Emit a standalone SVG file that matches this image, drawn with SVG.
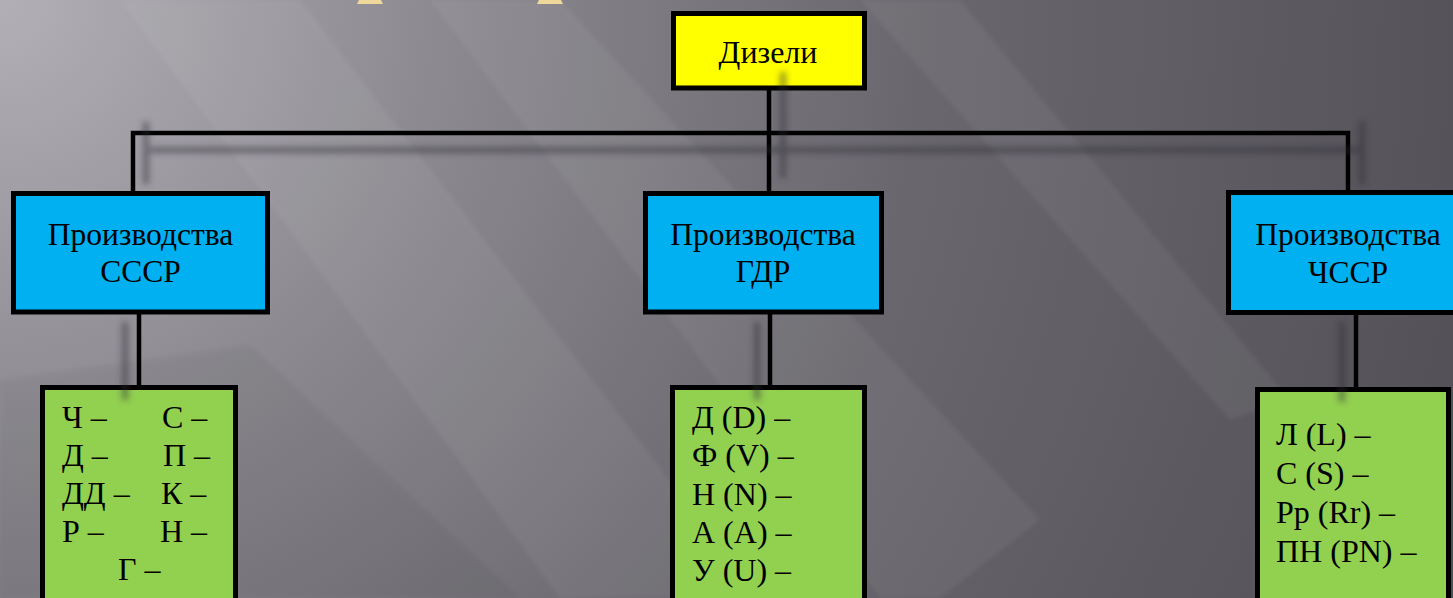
<svg xmlns="http://www.w3.org/2000/svg" width="1453" height="598" viewBox="0 0 1453 598">
<defs>
<radialGradient id="bg" cx="0" cy="0" r="1550" gradientUnits="userSpaceOnUse">
<stop offset="0" stop-color="#b2b0b6"/>
<stop offset="0.3" stop-color="#8a888e"/>
<stop offset="0.6" stop-color="#69676d"/>
<stop offset="1" stop-color="#525056"/>
</radialGradient>
<filter id="blur" x="-50%" y="-50%" width="200%" height="200%"><feGaussianBlur stdDeviation="3"/></filter>
<filter id="soft" filterUnits="userSpaceOnUse" x="0" y="0" width="1453" height="598"><feGaussianBlur stdDeviation="2"/></filter>
<style>
.box{stroke:#000;stroke-width:5}
.top{fill:#ffff00}
.mid{fill:#00b0f0}
.leaf{fill:#92d050}
.conn{fill:none;stroke:#000;stroke-width:4.5}
.shadow{fill:none;stroke:#2e2c34;stroke-width:6;opacity:0.5;filter:url(#blur)}
text{font-family:"Liberation Serif","Times New Roman",serif;fill:#000}
.t31{font-size:31.5px}
.t32{font-size:32px}
</style>
</defs>
<rect width="1453" height="598" fill="url(#bg)"/>
<g opacity="0.05" fill="#ffffff" filter="url(#soft)">
<polygon points="120,0 300,0 760,598 560,598"/>
<polygon points="430,0 560,0 1040,520 940,598 880,598"/>
<polygon points="860,0 960,0 1290,400 1230,420"/>
</g>
<g opacity="0.04" fill="#000000" filter="url(#soft)">
<polygon points="0,380 0,598 520,598 250,345"/>
</g>
<polygon points="359,0 381,0 383,4 357,4" fill="#eed89a"/>
<polygon points="539,0 561,0 563,4 537,4" fill="#eed89a"/>
<g id="connectors">
<path class="conn" d="M769,90 V133 M133,191 V133 H1348 V190 M769,133 V191 M139,314 V385 M770,314 V385 M1356,315 V387"/>
</g>
<g id="node-dizeli">
<rect class="box top" x="673.5" y="13.5" width="191" height="74.5"/>
<text class="t32" x="768" y="63" text-anchor="middle">Дизели</text>
</g>
<g id="node-ussr">
<rect class="box mid" x="13.5" y="193.5" width="254" height="118.5"/>
<text class="t31" x="140.5" text-anchor="middle"><tspan x="140.5" y="245">Производства</tspan><tspan x="140.5" y="282">СССР</tspan></text>
</g>
<g id="node-gdr">
<rect class="box mid" x="645.5" y="193.5" width="236" height="118.5"/>
<text class="t31" x="763" text-anchor="middle"><tspan x="763" y="245">Производства</tspan><tspan x="763" y="282">ГДР</tspan></text>
</g>
<g id="node-cssr">
<rect class="box mid" x="1228.5" y="192.5" width="240" height="120"/>
<text class="t31" x="1348" text-anchor="middle"><tspan x="1348" y="245">Производства</tspan><tspan x="1348" y="283">ЧССР</tspan></text>
</g>
<g id="leaf-ussr">
<rect class="box leaf" x="42.5" y="387.5" width="193" height="220"/>
<text class="t32"><tspan x="62" y="428">Ч –</tspan><tspan x="62" y="466">Д –</tspan><tspan x="62" y="504">ДД –</tspan><tspan x="62" y="542">Р –</tspan><tspan x="118" y="580">Г –</tspan></text>
<text class="t32"><tspan x="162" y="428">С –</tspan><tspan x="163" y="466">П –</tspan><tspan x="161" y="504">К –</tspan><tspan x="160" y="542">Н –</tspan></text>
</g>
<g id="leaf-gdr">
<rect class="box leaf" x="672.5" y="387.5" width="192" height="220"/>
<text class="t32"><tspan x="692" y="428">Д (D) –</tspan><tspan x="692" y="466">Ф (V) –</tspan><tspan x="692" y="505">Н (N) –</tspan><tspan x="692" y="543">А (А) –</tspan><tspan x="692" y="581">У (U) –</tspan></text>
</g>
<g id="leaf-cssr">
<rect class="box leaf" x="1257.5" y="389.5" width="191" height="220"/>
<text class="t32"><tspan x="1276" y="445">Л (L) –</tspan><tspan x="1276" y="484">С (S) –</tspan><tspan x="1276" y="523">Рр (Rr) –</tspan><tspan x="1276" y="562">ПН (PN) –</tspan></text>
</g>
<g id="connector-shadows">
<path class="shadow" d="M150,150 H1358 M146,122 V184 M1362,122 V184 M783,72 V178 M125,322 V400 M757,322 V400 M1342,322 V402"/>
</g>
</svg>
